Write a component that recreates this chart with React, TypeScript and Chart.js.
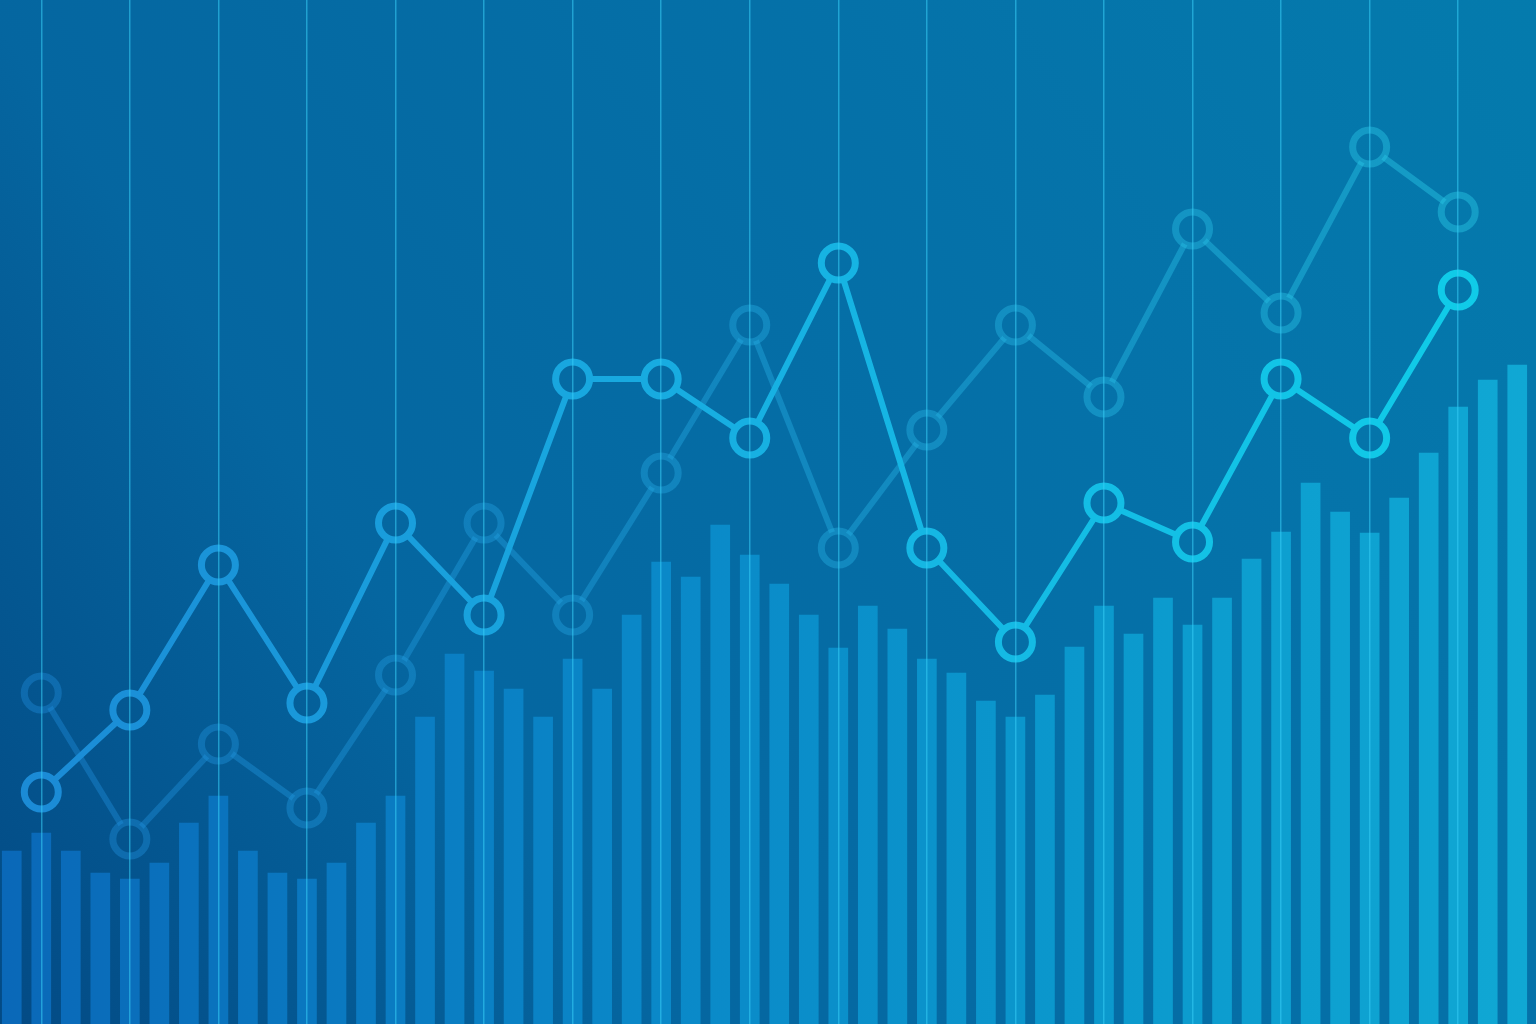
import React, { useEffect, useRef } from "react";
import { Chart, registerables } from "chart.js";

Chart.register(...registerables);

// ---- data ----
const periods = Array.from({ length: 52 }, (_, i) => `P${i + 1}`);

const volumeValues = [
  173, 191, 173, 151, 145, 161, 201, 228, 173, 151, 145, 161, 201, 228,
  307, 370, 353, 335, 307, 365, 335, 409, 462, 447, 499, 469, 440, 409,
  376, 418, 395, 365, 351, 323, 307, 329, 377, 418, 390, 426, 399, 426,
  465, 492, 541, 512, 491, 526, 571, 617, 644, 659,
];

// one point every third period, starting with the second period
const frontLineValues = [
  232, 314, 459, 321, 501, 409, 645, 645, 586, 761, 476, 382, 521, 482, 645, 586, 734,
];
const backLineValues = [
  331, 185, 280, 216, 349, 501, 409, 551, 699, 476, 594, 699, 627, 795, 711, 877, 812,
];

const W = 1536;
const H = 1024;
const SHIFT = 3; // canvas is shifted left by this many px
const CW = W + 6;

function spread(values: number[]): (number | null)[] {
  return periods.map((_, k) => (k % 3 === 1 ? values[(k - 1) / 3] ?? null : null));
}

export default function App() {
  const ref = useRef<HTMLCanvasElement>(null);

  useEffect(() => {
    const canvas = ref.current!;
    const g = canvas.getContext("2d")!;

    const bg = g.createLinearGradient(SHIFT, H, SHIFT + W, 0);
    bg.addColorStop(0, "#034a84");
    bg.addColorStop(0.3, "#0566a0");
    bg.addColorStop(0.7, "#0572a9");
    bg.addColorStop(1, "#047bad");

    const barGrad = g.createLinearGradient(SHIFT, 0, SHIFT + W, 0);
    barGrad.addColorStop(0, "#0a68b8");
    barGrad.addColorStop(0.42, "#0a88c8");
    barGrad.addColorStop(0.72, "#0b99cd");
    barGrad.addColorStop(1, "#10a8d4");

    const frontGrad = g.createLinearGradient(SHIFT + 41, 0, SHIFT + 1458, 0);
    frontGrad.addColorStop(0, "#1b8bd6");
    frontGrad.addColorStop(0.5, "#17b0e2");
    frontGrad.addColorStop(1, "#10cbe8");

    const backGrad = g.createLinearGradient(SHIFT + 41, 0, SHIFT + 1458, 0);
    backGrad.addColorStop(0, "rgba(30,140,220,0.4)");
    backGrad.addColorStop(1, "rgba(40,200,230,0.45)");

    const bgPlugin = {
      id: "bgFill",
      beforeDraw(chart: Chart) {
        const ctx = chart.ctx;
        ctx.save();
        ctx.fillStyle = bg;
        ctx.fillRect(0, 0, chart.width, chart.height);
        ctx.restore();
      },
    };

    const gridColor = "rgba(55,205,245,0.55)";

    const chart = new Chart(canvas, {
      type: "bar",
      data: {
        labels: periods,
        datasets: [
          {
            type: "line",
            label: "Front",
            data: spread(frontLineValues),
            borderColor: frontGrad,
            borderWidth: 6,
            pointRadius: 17,
            pointHoverRadius: 17,
            pointBorderWidth: 7,
            pointBorderColor: frontGrad,
            pointBackgroundColor: bg,
            spanGaps: true,
            tension: 0,
            order: 1,
          } as any,
          {
            type: "line",
            label: "Back",
            data: spread(backLineValues),
            borderColor: backGrad,
            borderWidth: 6,
            pointRadius: 17,
            pointHoverRadius: 17,
            pointBorderWidth: 7,
            pointBorderColor: backGrad,
            pointBackgroundColor: bg,
            spanGaps: true,
            tension: 0,
            order: 2,
          } as any,
          {
            type: "bar",
            label: "Volume",
            data: volumeValues,
            backgroundColor: barGrad,
            borderWidth: 0,
            barThickness: 19,
            order: 3,
          } as any,
        ],
      },
      options: {
        animation: false,
        responsive: false,
        events: [],
        layout: { autoPadding: false, padding: { left: 0, right: 7, top: 0, bottom: 0 } },
        plugins: {
          legend: { display: false },
          tooltip: { enabled: false },
          title: { display: false },
        },
        scales: {
          x: {
            type: "category",
            offset: true,
            grid: {
              offset: false,
              drawTicks: false,
              lineWidth: 1.5,
              z: 1,
              color: (ctx: any) => (ctx.index % 3 === 1 ? gridColor : "rgba(0,0,0,0)"),
            },
            border: { display: false },
            ticks: { display: false },
          },
          y: {
            display: false,
            min: 0,
            max: 1024,
          },
        },
      } as any,
      plugins: [bgPlugin],
    });

    return () => chart.destroy();
  }, []);

  return (
    <div
      style={{
        position: "fixed",
        left: 0,
        top: 0,
        width: W,
        height: H,
        overflow: "hidden",
        background: "#05639c",
      }}
    >
      <canvas
        ref={ref}
        width={CW}
        height={H}
        style={{ position: "absolute", left: -SHIFT, top: 0, width: CW, height: H }}
      />
    </div>
  );
}
